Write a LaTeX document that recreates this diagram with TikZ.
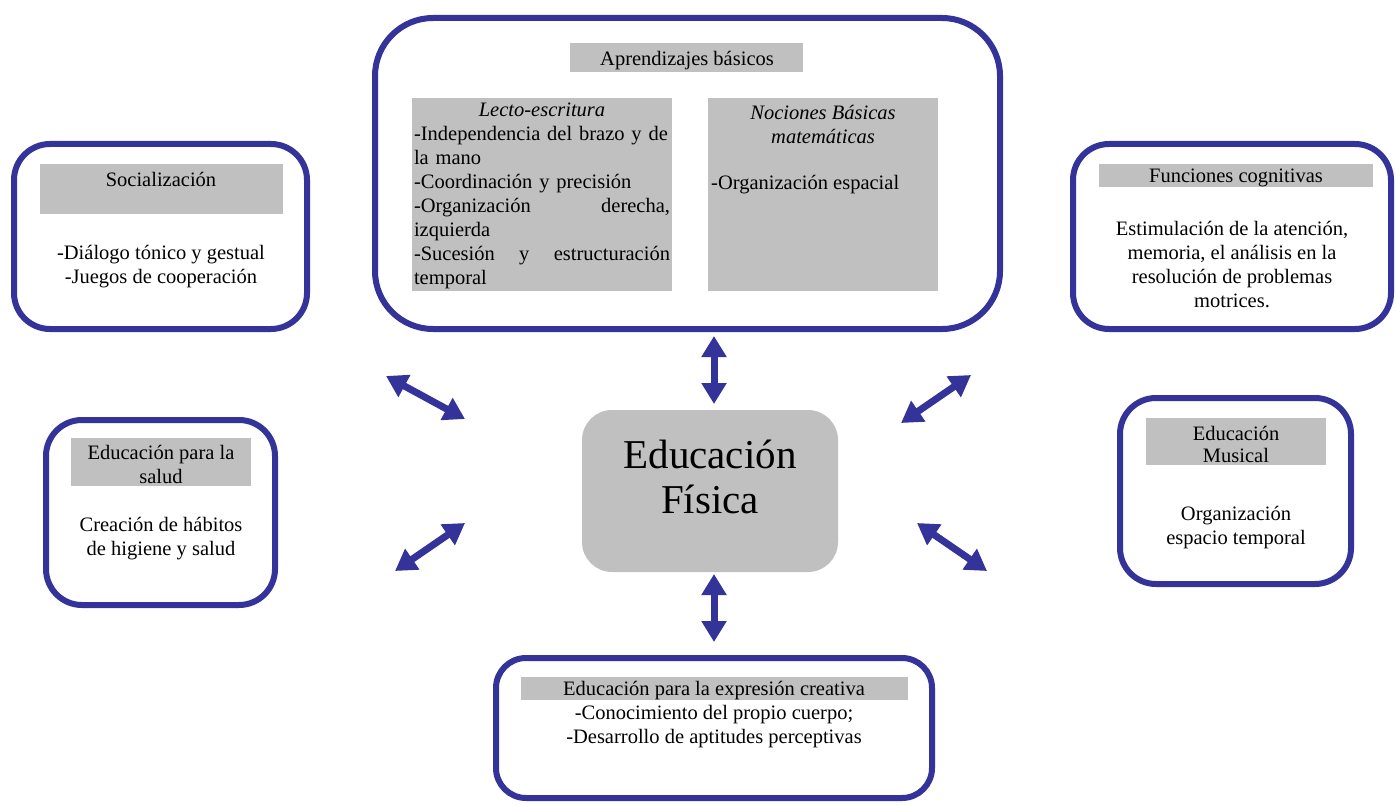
\documentclass[tikz,border=0pt]{standalone}
\usepackage{fontspec}
\setmainfont{Liberation Serif}
\usepackage{tikz}
\usetikzlibrary{arrows.meta}
\definecolor{azul}{RGB}{51,51,153}
\definecolor{gris}{RGB}{192,192,192}

\begin{document}
\begin{tikzpicture}[x=1pt, y=-1pt,
  caja/.style={draw=azul, line width=6pt, fill=white, inner sep=0pt},
  cabeza/.style={fill=gris, inner sep=0pt},
  texto/.style={inner sep=0pt, align=center, font=\fontsize{20.5}{24}\selectfont},
  flecha/.style={draw=azul, line width=7pt,
    {Triangle[length=21pt,width=24pt]}-{Triangle[length=21pt,width=24pt]}}]
\useasboundingbox (0,0) rectangle (1396,805);
% cajas
\node[caja, rounded corners=58pt, minimum width=625pt, minimum height=311pt] (apr) at (687.5,173.5) {};
\node[caja, rounded corners=36pt, minimum width=293pt, minimum height=185pt] (soc) at (160.5,236.5) {};
\node[caja, rounded corners=36pt, minimum width=318pt, minimum height=185pt] (cog) at (1232,236.5) {};
\node[caja, rounded corners=36pt, minimum width=229pt, minimum height=185pt] (sal) at (160.5,512.5) {};
\node[caja, rounded corners=36pt, minimum width=231pt, minimum height=186pt] (mus) at (1235.5,491) {};
\node[caja, rounded corners=30pt, minimum width=436pt, minimum height=140pt] (cre) at (714,728) {};
\node[cabeza, rounded corners=30pt, minimum width=256pt, minimum height=162pt] (fis) at (710,491) {};
% cabeceras grises
\node[cabeza, minimum width=233pt, minimum height=29pt] (aprh) at (686.5,57.5) {};
\node[cabeza, minimum width=260pt, minimum height=193pt] (lec) at (542,194.5) {};
\node[cabeza, minimum width=230pt, minimum height=193pt] (noc) at (823,194.5) {};
\node[cabeza, minimum width=243pt, minimum height=50pt] (soch) at (161.5,189) {};
\node[cabeza, minimum width=274pt, minimum height=23pt] (cogh) at (1236,175.5) {};
\node[cabeza, minimum width=180pt, minimum height=48pt] (salh) at (161,462) {};
\node[cabeza, minimum width=180pt, minimum height=47pt] (mush) at (1236,441.5) {};
\node[cabeza, minimum width=387pt, minimum height=23pt] (creh) at (714.5,688.5) {};
% textos
\node[texto] (taprh) at (687,61) {Aprendizajes básicos};
\node[texto, text width=256pt, align=left] (tlec) at (542,196) {%
  \makebox[\linewidth]{\textit{Lecto-escritura}}\\
  -Independencia del brazo y de\\
  la mano\\
  -Coordinación y precisión\\
  -Organización \hfill derecha,\\
  izquierda\\
  -Sucesión \hfill y \hfill estructuración\\
  temporal};
\node[texto, font=\fontsize{20.5}{24}\selectfont\itshape] (tnoc) at (823,124) {Nociones Básicas\\matemáticas};
\node[texto, anchor=west] (tnoc2) at (711,185) {-Organización espacial};
\node[texto] (tsoch) at (161,179) {Socialización};
\node[texto] (tsoc) at (161,267) {-Diálogo tónico y gestual\\-Juegos de cooperación};
\node[texto] (tcogh) at (1236,178) {Funciones cognitivas};
\node[texto] (tcog) at (1232,265) {Estimulación de la atención,\\memoria, el análisis en la\\resolución de problemas\\motrices.};
\node[texto] (tsalh) at (161,464) {Educación para la\\salud};
\node[texto] (tsal) at (161,539) {Creación de hábitos\\de higiene y salud};
\node[texto, font=\fontsize{20.5}{22}\selectfont] (tmush) at (1236,444) {Educación\\Musical};
\node[texto] (tmus) at (1236,528) {Organización\\espacio temporal};
\node[texto] (tcreh) at (714,691) {Educación para la expresión creativa};
\node[texto] (tcre) at (714,727) {-Conocimiento del propio cuerpo;\\-Desarrollo de aptitudes perceptivas};
\node[texto, font=\fontsize{41}{45}\selectfont] (tfis) at (710,477) {Educación\\Física};
% flechas
\coordinate (a1) at (714,336); \coordinate (b1) at (714,404);
\coordinate (a2) at (714,574); \coordinate (b2) at (714,642);
\coordinate (a3) at (386,376); \coordinate (b3) at (465,419);
\coordinate (a4) at (971,375); \coordinate (b4) at (901,423);
\coordinate (a5) at (395,571); \coordinate (b5) at (465,523);
\coordinate (a6) at (917,523); \coordinate (b6) at (987,571);
\foreach \i in {1,...,6}
  \draw[flecha] (a\i) -- (b\i);
\end{tikzpicture}
\end{document}
